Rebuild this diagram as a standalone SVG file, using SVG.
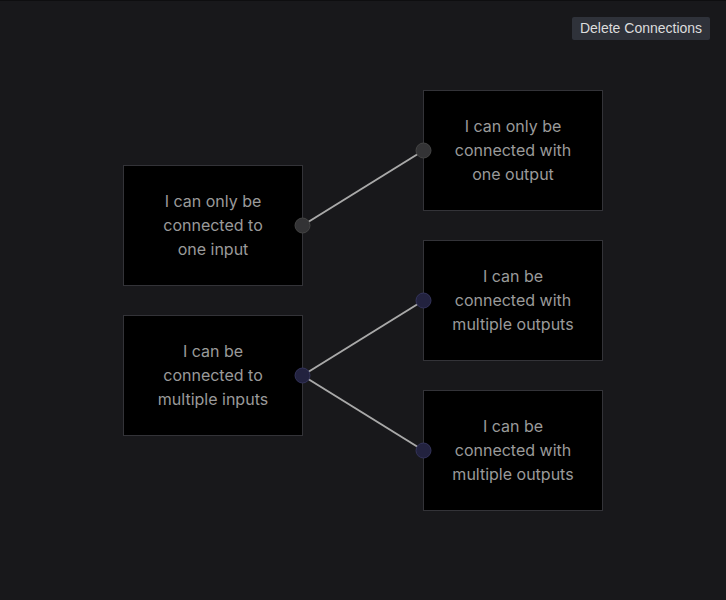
<svg xmlns="http://www.w3.org/2000/svg" width="726" height="600" viewBox="0 0 726 600">
<style>
.node rect{fill:#000;stroke:#333338;stroke-width:1}
.node text{fill:#9a9a9a;font-family:Inter,"Noto Sans",sans-serif;font-size:16px;text-anchor:middle}
.h1{fill:#333335;stroke:#444;stroke-width:1}
.h2{fill:#22223f;stroke:#33335a;stroke-width:1}
.edge{stroke:#a9a9a9;stroke-width:2;fill:none}
</style>
<rect x="0" y="0" width="726" height="600" fill="#18181b"/>
<line x1="0" y1="0.5" x2="726" y2="0.5" stroke="#0e0e10"/>
<g id="button">
<rect x="572" y="17" width="138" height="23" rx="2" fill="#2f323a"/>
<text x="641" y="33" font-family="'Liberation Sans',Arial,sans-serif" font-size="14" fill="#dddddd" text-anchor="middle">Delete Connections</text>
</g>
<g id="connectors">
<line class="edge" x1="302.5" y1="225.5" x2="423.5" y2="150.5"/>
<line class="edge" x1="302.5" y1="375.5" x2="423.5" y2="300.5"/>
<line class="edge" x1="302.5" y1="375.5" x2="423.5" y2="450.5"/>
</g>
<g id="nodeA" class="node">
<rect x="123.5" y="165.5" width="179" height="120"/>
<text x="213" y="207">I can only be</text>
<text x="213" y="231">connected to</text>
<text x="213" y="255">one input</text>
<circle class="h1" cx="302.5" cy="225.5" r="7.5"/>
</g>
<g id="nodeB" class="node">
<rect x="423.5" y="90.5" width="179" height="120"/>
<text x="513" y="132">I can only be</text>
<text x="513" y="156">connected with</text>
<text x="513" y="180">one output</text>
<circle class="h1" cx="423.5" cy="150.5" r="7.5"/>
</g>
<g id="nodeC" class="node">
<rect x="123.5" y="315.5" width="179" height="120"/>
<text x="213" y="357">I can be</text>
<text x="213" y="381">connected to</text>
<text x="213" y="405">multiple inputs</text>
<circle class="h2" cx="302.5" cy="375.5" r="7.5"/>
</g>
<g id="nodeD" class="node">
<rect x="423.5" y="240.5" width="179" height="120"/>
<text x="513" y="282">I can be</text>
<text x="513" y="306">connected with</text>
<text x="513" y="330">multiple outputs</text>
<circle class="h2" cx="423.5" cy="300.5" r="7.5"/>
</g>
<g id="nodeE" class="node">
<rect x="423.5" y="390.5" width="179" height="120"/>
<text x="513" y="432">I can be</text>
<text x="513" y="456">connected with</text>
<text x="513" y="480">multiple outputs</text>
<circle class="h2" cx="423.5" cy="450.5" r="7.5"/>
</g>
</svg>
